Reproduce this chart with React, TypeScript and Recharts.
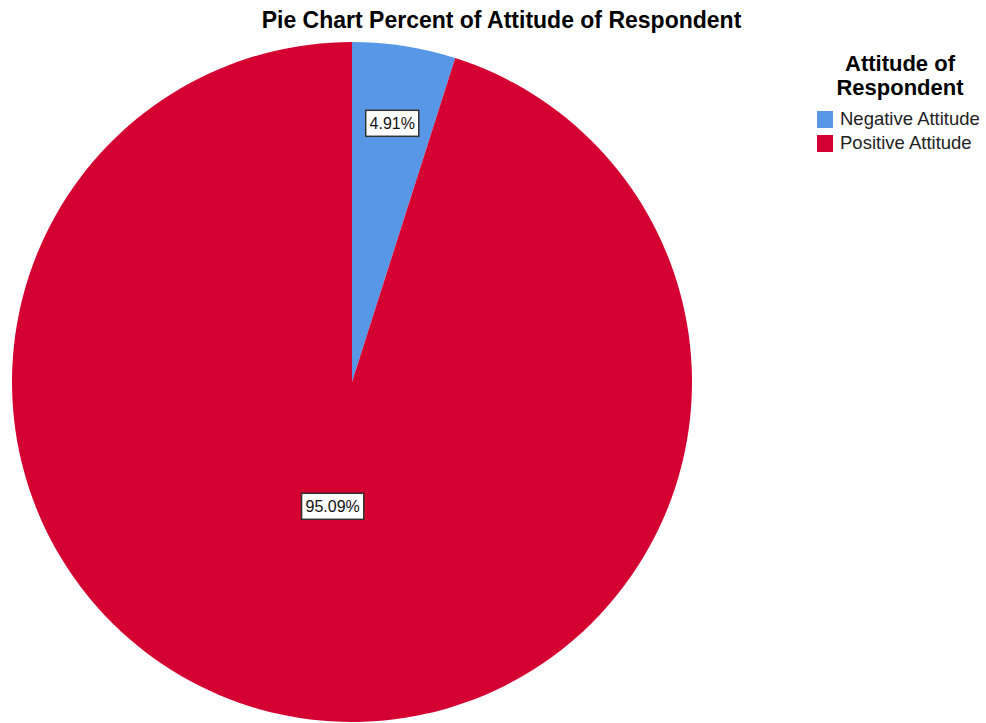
import { PieChart, Pie, Cell, Legend } from 'recharts'

const categories = ['Negative Attitude', 'Positive Attitude']
const percents = [4.91, 95.09]
const sliceColors = ['#5897E6', '#D50032']
const labelRadius = [0.77, 0.37]

const data = categories.map((name, i) => ({ name, value: percents[i] }))

const FONT = '"Liberation Sans", Arial, sans-serif'
const RADIAN = Math.PI / 180

const renderLabel = ({ cx, cy, midAngle, outerRadius, index, value }: any) => {
  const r = outerRadius * labelRadius[index]
  const x = cx + r * Math.cos(-midAngle * RADIAN)
  const y = cy + r * Math.sin(-midAngle * RADIAN)
  const txt = `${value.toFixed(2)}%`
  const w = txt.length * 9.2 + 7
  return (
    <g>
      <rect x={x - w / 2} y={y - 13} width={w} height={26} fill="#fff" stroke="#333" strokeWidth={1.5} />
      <text x={x} y={y + 6} textAnchor="middle" fontFamily={FONT} fontSize={16} fill="#111">
        {txt}
      </text>
    </g>
  )
}

const LegendBox = () => (
  <div style={{ fontFamily: FONT, width: 166, whiteSpace: 'nowrap' }}>
    <div style={{ fontWeight: 'bold', fontSize: 22, textAlign: 'center', lineHeight: '24px', color: '#000' }}>
      Attitude of
      <br />
      Respondent
    </div>
    <div style={{ marginTop: 7 }}>
      {categories.map((c, i) => (
        <div key={c} style={{ display: 'flex', alignItems: 'center', height: 24 }}>
          <span style={{ width: 16, height: 17, background: sliceColors[i], display: 'inline-block', marginRight: 7, flexShrink: 0 }} />
          <span style={{ fontSize: 18.5, color: '#222' }}>{c}</span>
        </div>
      ))}
    </div>
  </div>
)

export default function App() {
  return (
    <div style={{ position: 'absolute', left: 0, top: 0, width: 986, height: 723, background: '#fff', overflow: 'hidden' }}>
      <div
        style={{
          position: 'absolute',
          top: 7,
          left: 0,
          width: 1003,
          textAlign: 'center',
          fontFamily: FONT,
          fontWeight: 'bold',
          fontSize: 23,
          color: '#000',
        }}
      >
        Pie Chart Percent of Attitude of Respondent
      </div>
      <PieChart width={986} height={723} margin={{ top: 0, right: 0, bottom: 0, left: 0 }}>
        <Pie
          data={data}
          dataKey="value"
          nameKey="name"
          cx={352}
          cy={382}
          outerRadius={340}
          startAngle={90}
          endAngle={-270}
          stroke="none"
          label={renderLabel}
          labelLine={false}
          isAnimationActive={false}
        >
          {data.map((d, i) => (
            <Cell key={d.name} fill={sliceColors[i]} />
          ))}
        </Pie>
        <Legend content={<LegendBox />} wrapperStyle={{ position: 'absolute', left: 817, top: 52, width: 166 }} />
      </PieChart>
    </div>
  )
}
